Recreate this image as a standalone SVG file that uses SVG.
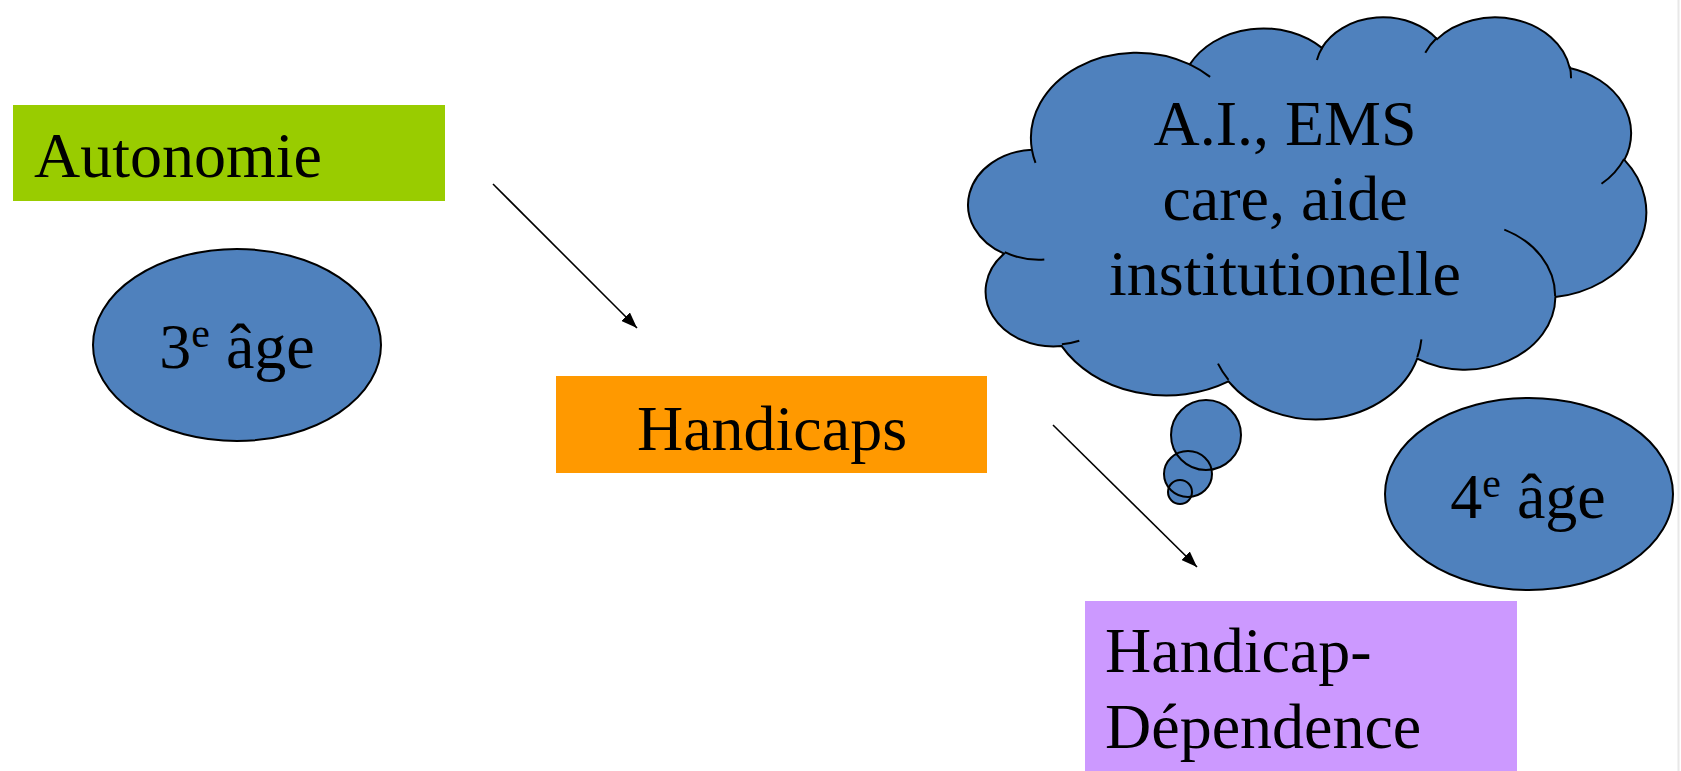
<svg xmlns="http://www.w3.org/2000/svg" width="1681" height="771" viewBox="0 0 1681 771">
<style>
  .lbl { font-family: "Liberation Serif", "Times New Roman", serif; font-size: 64px; fill: #000; }
  .sup { font-size: 42px; }
  .blue { fill: #4F81BD; stroke: #000; stroke-width: 2; }
  .edge { stroke: #000; stroke-width: 1.6; fill: none; marker-end: url(#arr); }
  .inner { fill: none; stroke: #000; stroke-width: 2; }
</style>
<defs>
  <marker id="arr" viewBox="0 0 16 12" refX="16" refY="6" markerWidth="16" markerHeight="12" markerUnits="userSpaceOnUse" orient="auto">
    <path d="M0,0 L16,6 L0,12 Z" fill="#000"/>
  </marker>
</defs>
<rect x="0" y="0" width="1681" height="771" fill="#fff"/>
<line x1="1678.5" y1="0" x2="1678.5" y2="771" stroke="#e8e8e8" stroke-width="2"/>

<g id="autonomie">
  <rect x="13" y="105" width="432" height="96" fill="#99CC00"/>
  <text class="lbl" x="34" y="177">Autonomie</text>
</g>

<g id="troisieme-age">
  <ellipse class="blue" cx="237" cy="345" rx="144" ry="96"/>
  <text class="lbl" x="237" y="368" text-anchor="middle">3<tspan class="sup" dy="-21">e</tspan><tspan dy="21"> âge</tspan></text>
</g>

<g id="handicaps">
  <rect x="556" y="376" width="431" height="97" fill="#FF9900"/>
  <text class="lbl" x="772" y="450" text-anchor="middle">Handicaps</text>
</g>

<g id="cloud">
  <path class="blue" d="M 1031.9 149.7 A 105.5 85.5 0 0 1 1189.8 64.4 A 83.3 67.6 0 0 1 1321.9 47.9 A 68.2 55.3 0 0 1 1437.1 39.1 A 75.9 61.4 0 0 1 1569.7 67.9 A 83.3 67.7 0 0 1 1624.4 159.9 A 105.9 85.8 0 0 1 1555.4 297.1 A 90.4 73.2 0 0 1 1417.2 358.6 A 105.5 85.8 0 0 1 1228.5 381.4 A 120.6 98.1 0 0 1 1061.7 346.1 A 68.1 55.1 0 0 1 1004.0 253.7 A 67.9 55.3 0 0 1 1031.9 149.7 Z"/>
  <path class="inner" d="M 1044.3 259.6 A 67.9 55.3 0 0 1 1004.7 252.2 M 1079.3 340.8 A 68.1 55.1 0 0 1 1061.9 344.3 M 1228.5 379.8 A 105.5 85.8 0 0 1 1218.0 363.6 M 1421.4 339.4 A 105.5 85.8 0 0 1 1417.3 357.2 M 1504.3 229.6 A 90.4 73.2 0 0 1 1555.1 296.0 M 1624.1 158.9 A 83.3 67.7 0 0 1 1601.5 183.8 M 1569.8 66.5 A 75.9 61.4 0 0 1 1571.0 78.3 M 1425.3 52.8 A 75.9 61.4 0 0 1 1436.9 37.8 M 1316.95 59.9 A 68.2 55.3 0 0 1 1322.6 47.0 M 1189.75 64.3 A 105.5 85.5 0 0 1 1210.1 76.9 M 1035.5 162.9 A 105.5 85.5 0 0 1 1031.9 149.7"/>
  <ellipse cx="1206" cy="435" rx="35" ry="35" fill="#4F81BD"/>
  <ellipse cx="1188" cy="474" rx="24" ry="23" fill="#4F81BD"/>
  <ellipse cx="1180" cy="492" rx="12" ry="12" fill="#4F81BD"/>
  <ellipse cx="1206" cy="435" rx="35" ry="35" class="inner"/>
  <ellipse cx="1188" cy="474" rx="24" ry="23" class="inner"/>
  <ellipse cx="1180" cy="492" rx="12" ry="12" class="inner"/>
  <text class="lbl" x="1285" y="145" text-anchor="middle">A.I., EMS</text>
  <text class="lbl" x="1285" y="220" text-anchor="middle">care, aide</text>
  <text class="lbl" x="1285" y="295" text-anchor="middle">institutionelle</text>
</g>

<g id="quatrieme-age">
  <ellipse class="blue" cx="1529" cy="494" rx="144" ry="96"/>
  <text class="lbl" x="1528" y="518" text-anchor="middle">4<tspan class="sup" dy="-21">e</tspan><tspan dy="21"> âge</tspan></text>
</g>

<g id="handicap-dependence">
  <rect x="1085" y="601" width="432" height="170" fill="#CC99FF"/>
  <text class="lbl" x="1105" y="672">Handicap-</text>
  <text class="lbl" x="1105" y="748">Dépendence</text>
</g>

<g id="connectors">
  <line class="edge" x1="493" y1="184" x2="637" y2="328"/>
  <line class="edge" x1="1053" y1="425" x2="1197" y2="567"/>
</g>
</svg>
